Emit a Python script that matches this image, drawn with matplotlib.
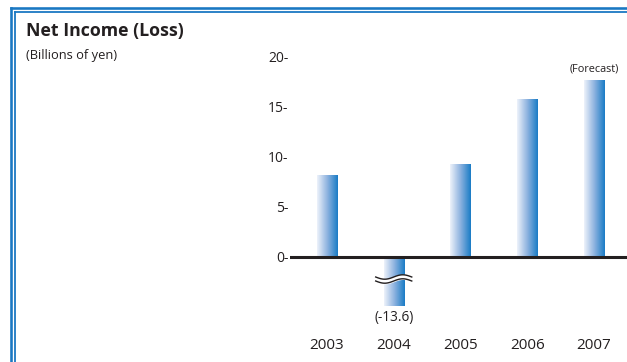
import numpy as np
import matplotlib
matplotlib.use('Agg')
import matplotlib.pyplot as plt
from matplotlib.colors import LinearSegmentedColormap
from matplotlib.lines import Line2D

# data (billions of yen)
years = ['2003', '2004', '2005', '2006', '2007']
net_income = [8.2, -13.6, 9.3, 15.8, 17.7]
forecast = [False, False, False, False, True]
y_ticks = [0, 5, 10, 15, 20]
y_floor = -4.9      # where the broken 2004 bar is cut off
break_at = -2.2

plt.rcParams['font.family'] = ['Open Sans', 'DejaVu Sans']
ink = '#231f20'
blue = '#1a78c2'

fig = plt.figure(figsize=(6.27, 3.62), dpi=100)

# double blue frame (open on right and bottom)
W, H = 627, 362
for px, lw in [(10.5, 2.6), (14.5, 1.8)]:
    py = px - 3
    fig.add_artist(Line2D([px / W, px / W], [0, 1 - py / H], color=blue, lw=lw * 0.72))
    fig.add_artist(Line2D([px / W, 1], [1 - py / H, 1 - py / H], color=blue, lw=lw * 0.72))

fig.text(26 / W, 1 - 31 / H, 'Net Income (Loss)', fontsize=12.8, fontweight='bold',
         color=ink, va='center', ha='left')
fig.text(26 / W, 1 - 55 / H, '(Billions of yen)', fontsize=9.3, color=ink,
         va='center', ha='left')

ax = fig.add_axes([290 / W, 55 / H, 337 / W, 250 / H])
for s in ax.spines.values():
    s.set_visible(False)

x = np.arange(len(years))
bar_w = 0.3
cmap = LinearSegmentedColormap.from_list('grad', ['#edf2fa', '#8db2df', '#1a7cc6'])
grad = np.linspace(0, 1, 64).reshape(1, -1)

bars = ax.bar(x, [max(v, y_floor) for v in net_income], width=bar_w,
              facecolor='none', edgecolor='none')
for b in bars:
    x0, y0 = b.get_x(), b.get_y()
    w, h = b.get_width(), b.get_height()
    im = ax.imshow(grad, cmap=cmap, aspect='auto', interpolation='bilinear',
                   extent=[x0, x0 + w, min(y0, y0 + h), max(y0, y0 + h)], zorder=2)
    im.set_clip_path(b)
ax.set_xlim(-0.554, 4.495)
ax.set_ylim(-5, 20)

# zero line
ax.axhline(0, color=ink, lw=2.2, zorder=3)

# break marks on the loss bar
for i, v in enumerate(net_income):
    if v < y_floor:
        xs = np.linspace(i - 0.27, i + 0.27, 60)
        wave = 0.22 * np.sin((xs - i) / 0.54 * 2 * np.pi)
        ax.fill_between(xs, break_at - 0.2 + wave, break_at + 0.2 + wave,
                        color='white', zorder=4)
        ax.plot(xs, break_at + 0.2 + wave, color=ink, lw=1.0, zorder=5)
        ax.plot(xs, break_at - 0.2 + wave, color=ink, lw=1.0, zorder=5)
        ax.annotate(f'(-{abs(v)})', (i, y_floor), xytext=(0, -3),
                    textcoords='offset points', ha='center', va='top',
                    fontsize=9.8, color=ink, annotation_clip=False)
    if forecast[i]:
        ax.annotate('(Forecast)', (i, v), xytext=(0, 4), textcoords='offset points',
                    ha='center', va='bottom', fontsize=7.8, color=ink,
                    annotation_clip=False)

ax.set_yticks(y_ticks)
ax.set_yticklabels([f'{t}-' for t in y_ticks], fontsize=10, color=ink)
ax.set_xticks(x)
ax.set_xticklabels(years, fontsize=11, color=ink)
ax.tick_params(axis='y', length=0, pad=1)
ax.tick_params(axis='x', length=0, pad=22)

fig.savefig('out.png', dpi=100)
